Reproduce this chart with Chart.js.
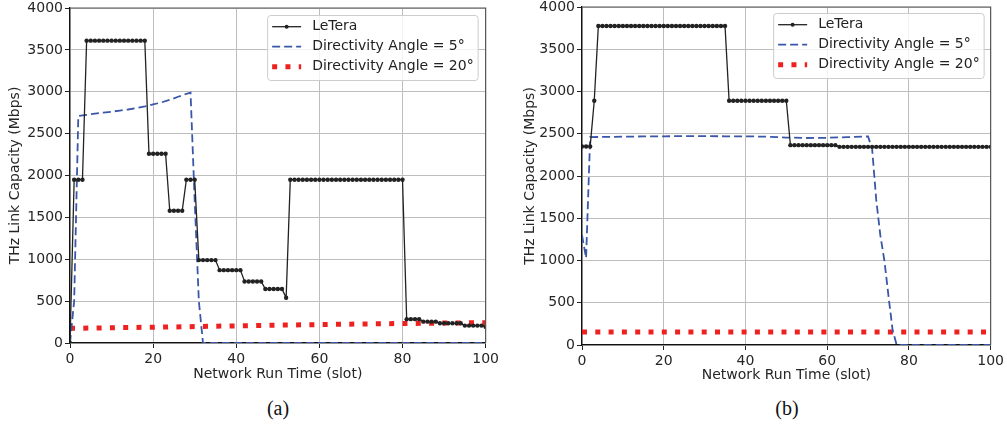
<!DOCTYPE html>
<html>
<head>
<meta charset="utf-8">
<script src="https://cdn.jsdelivr.net/npm/chart.js@4.4.1/dist/chart.umd.min.js"></script>
<style>
  html, body { margin: 0; padding: 0; background: #fff; }
  body { width: 1007px; height: 425px; overflow: hidden; position: relative; }
  .wrap { position: absolute; }
  .cap { position: absolute; top: 398px; font-family: "Liberation Serif", serif; font-size: 20px; line-height: 20px; color: #111; transform: translateX(-50%); white-space: nowrap; }
</style>
</head>
<body>
<div class="wrap" style="left:0px;top:-4px;width:502px;height:389px"><canvas id="chartA" width="502" height="389"></canvas></div>
<div class="wrap" style="left:512px;top:-4px;width:495px;height:389px"><canvas id="chartB" width="495" height="389"></canvas></div>
<div class="cap" style="left:278px">(a)</div>
<div class="cap" style="left:787px">(b)</div>
<script>
// ---------- DATA ----------
const slots = Array.from({ length: 101 }, (_, i) => i);

const xTicks = [0, 20, 40, 60, 80, 100];
const yTicks = [0, 500, 1000, 1500, 2000, 2500, 3000, 3500, 4000];

const seriesNames = ['LeTera', 'Directivity Angle = 5°', 'Directivity Angle = 20°'];

// (a) LeTera, one value per slot 0..100
const leTeraA = [
  0,
  1950, 1950, 1950,
  3610, 3610, 3610, 3610, 3610, 3610, 3610, 3610, 3610, 3610, 3610, 3610, 3610, 3610, 3610,
  2260, 2260, 2260, 2260, 2260,
  1580, 1580, 1580, 1580,
  1950, 1950, 1950,
  990, 990, 990, 990, 990,
  870, 870, 870, 870, 870, 870,
  735, 735, 735, 735, 735,
  645, 645, 645, 645, 645,
  540,
  1950, 1950, 1950, 1950, 1950, 1950, 1950,
  1950, 1950, 1950, 1950, 1950, 1950, 1950,
  1950, 1950, 1950, 1950, 1950, 1950, 1950,
  1950, 1950, 1950, 1950, 1950, 1950, 1950,
  285, 285, 285, 285,
  255, 255, 255, 255,
  235, 235, 235, 235, 235, 235,
  208, 208, 208, 208, 208,
  192
];

// (a) Directivity 5°
const dir5A_x = [0, 1, 2, 4, 6, 8, 10, 12, 14, 16, 18, 20, 22, 24, 26, 28, 29, 30, 31, 32, 100];
const dir5A_y = [0, 500, 2710, 2725, 2738, 2750, 2762, 2775, 2788, 2805, 2825, 2848, 2873, 2903, 2940, 2975, 2990, 1700, 500, 0, 0];

// (a) Directivity 20°
const dir20A_x = [0, 25, 50, 75, 100];
const dir20A_y = [175, 192, 213, 230, 243];

// (b) LeTera, one value per slot 0..100
const leTeraB = [
  2350, 2350, 2350,
  2890,
  3775, 3775, 3775, 3775, 3775, 3775, 3775, 3775,
  3775, 3775, 3775, 3775, 3775, 3775, 3775, 3775,
  3775, 3775, 3775, 3775, 3775, 3775, 3775, 3775,
  3775, 3775, 3775, 3775, 3775, 3775, 3775, 3775,
  2890, 2890, 2890, 2890, 2890, 2890, 2890, 2890, 2890, 2890, 2890, 2890, 2890, 2890, 2890,
  2365, 2365, 2365, 2365, 2365, 2365, 2365, 2365, 2365, 2365, 2365, 2365,
  2345, 2345, 2345, 2345, 2345, 2345, 2345, 2345, 2345, 2345,
  2345, 2345, 2345, 2345, 2345, 2345, 2345, 2345, 2345, 2345,
  2345, 2345, 2345, 2345, 2345, 2345, 2345, 2345, 2345, 2345,
  2345, 2345, 2345, 2345, 2345, 2345, 2345, 2345
];

// (b) Directivity 5°
const dir5B_x = [0, 1, 2, 5, 10, 15, 20, 25, 30, 35, 40, 45, 50, 55, 60, 65, 70, 71, 72, 73, 74, 75, 76, 77, 100];
const dir5B_y = [1300, 1030, 2460, 2462, 2465, 2468, 2470, 2472, 2472, 2470, 2470, 2465, 2455, 2450, 2452, 2460, 2468, 2320, 1720, 1300, 1000, 580, 180, 0, 0];

// (b) Directivity 20°
const dir20B_x = [0, 100];
const dir20B_y = [155, 155];

// ---------- STYLE ----------
const FONT = '"DejaVu Sans", sans-serif';
const C_BLACK = '#222222';
const C_BLUE = '#3a56a8';
const C_RED = '#ee2121';

const pts = (xs, ys) => xs.map((x, i) => ({ x: x, y: ys[i] }));
const plainTick = v => String(v);

const frameLegend = {
  id: 'frameLegend',
  afterDatasetsDraw(chart, args, opts) {
    const ctx = chart.ctx, a = chart.chartArea;
    ctx.save();
    ctx.strokeStyle = '#555';
    ctx.lineWidth = 1.2;
    ctx.beginPath();
    ctx.moveTo(a.left, a.top);
    ctx.lineTo(a.right, a.top);
    ctx.lineTo(a.right, a.bottom);
    ctx.stroke();
    ctx.restore();
  },
  afterDraw(chart, args, opts) {
    const ctx = chart.ctx, a = chart.chartArea;
    ctx.save();
    ctx.font = '14px ' + FONT;
    const items = opts.items;
    const tw = Math.max(...items.map(it => ctx.measureText(it.text).width));
    const w = 45 + tw + 4, h = 65;
    const x1 = a.right - opts.dx, x0 = x1 - w, y0 = a.top + opts.dy;
    ctx.beginPath();
    if (ctx.roundRect) ctx.roundRect(x0 + 0.5, y0 + 0.5, w, h, 3); else ctx.rect(x0 + 0.5, y0 + 0.5, w, h);
    ctx.fillStyle = 'rgba(255,255,255,0.8)';
    ctx.fill();
    ctx.strokeStyle = '#cccccc';
    ctx.lineWidth = 1;
    ctx.stroke();
    items.forEach((it, i) => {
      const cy = y0 + 11.7 + 20 * i;
      const hx = x0 + 5, hl = 29;
      ctx.save();
      ctx.beginPath();
      if (it.kind === 'marker') {
        ctx.strokeStyle = C_BLACK; ctx.lineWidth = 1.3;
        ctx.moveTo(hx, cy); ctx.lineTo(hx + hl, cy); ctx.stroke();
        ctx.beginPath(); ctx.fillStyle = C_BLACK;
        ctx.arc(hx + hl / 2, cy, 2, 0, Math.PI * 2); ctx.fill();
      } else if (it.kind === 'dash') {
        ctx.strokeStyle = C_BLUE; ctx.lineWidth = 1.8; ctx.setLineDash([8, 4]);
        ctx.moveTo(hx, cy); ctx.lineTo(hx + hl, cy); ctx.stroke();
      } else {
        ctx.strokeStyle = C_RED; ctx.lineWidth = 5; ctx.setLineDash([5, 8.3]); ctx.lineCap = 'butt';
        ctx.moveTo(hx, cy); ctx.lineTo(hx + hl, cy); ctx.stroke();
      }
      ctx.restore();
      ctx.fillStyle = C_BLACK;
      ctx.textBaseline = 'middle';
      ctx.textAlign = 'left';
      ctx.fillText(it.text, x0 + 45, cy);
    });
    ctx.restore();
  }
};

function makeChart(id, cfg) {
  const datasets = [
    {
      label: seriesNames[0], data: pts(slots, cfg.leTera),
      borderColor: C_BLACK, borderWidth: 1.3,
      pointRadius: 2.2, pointBackgroundColor: C_BLACK, pointBorderWidth: 0, pointHoverRadius: 2.2,
      order: 1
    },
    {
      label: seriesNames[1], data: pts(cfg.d5x, cfg.d5y),
      borderColor: C_BLUE, borderWidth: 1.8, borderDash: [8, 4],
      pointRadius: 0, order: 2
    },
    {
      label: seriesNames[2], data: pts(cfg.d20x, cfg.d20y),
      borderColor: C_RED, borderWidth: 5, borderDash: [5, 8.3], borderCapStyle: 'butt',
      pointRadius: 0, order: 3
    }
  ];
  return new Chart(document.getElementById(id), {
    type: 'line',
    data: { datasets: datasets },
    plugins: [frameLegend],
    options: {
      responsive: false,
      animation: false,
      devicePixelRatio: 1,
      layout: { padding: { left: 0, right: 15, top: cfg.padTop, bottom: 0 } },
      elements: { line: { tension: 0, fill: false } },
      plugins: {
        legend: { display: false },
        tooltip: { enabled: false },
        frameLegend: {
          dx: cfg.legDx, dy: cfg.legDy,
          items: [
            { text: seriesNames[0], kind: 'marker' },
            { text: seriesNames[1], kind: 'dash' },
            { text: seriesNames[2], kind: 'dot' }
          ]
        }
      },
      scales: {
        x: {
          type: 'linear', min: 0, max: 100,
          afterBuildTicks: s => { s.ticks = xTicks.map(v => ({ value: v })); },
          ticks: { color: '#262626', font: { family: FONT, size: 14 }, padding: 3, maxRotation: 0, autoSkip: false, callback: plainTick },
          grid: { color: '#bdbdbd', lineWidth: 1, tickLength: 5, tickColor: '#222', drawTicks: true },
          border: { display: true, color: '#111', width: 1.3 },
          title: { display: true, text: 'Network Run Time (slot)', color: '#262626', font: { family: FONT, size: 14 }, padding: { top: 0, bottom: cfg.xTitlePad } },
          afterFit: s => { s.height = cfg.xH; }
        },
        y: {
          type: 'linear', min: 0, max: 4000,
          afterBuildTicks: s => { s.ticks = yTicks.map(v => ({ value: v })); },
          ticks: { color: '#262626', font: { family: FONT, size: 14 }, padding: 2, callback: plainTick },
          grid: { color: '#bdbdbd', lineWidth: 1, tickLength: 5, tickColor: '#222', drawTicks: true },
          border: { display: true, color: '#111', width: 1.3 },
          title: { display: true, text: 'THz Link Capacity (Mbps)', color: '#262626', font: { family: FONT, size: 14 }, padding: { top: cfg.yTitlePad, bottom: 0 } },
          afterFit: s => { s.width = 70; }
        }
      }
    }
  });
}

makeChart('chartA', {
  leTera: leTeraA, d5x: dir5A_x, d5y: dir5A_y, d20x: dir20A_x, d20y: dir20A_y,
  padTop: 12, xH: 42, xTitlePad: 2.6, yTitlePad: 7, legDx: 8, legDy: 7
});
makeChart('chartB', {
  leTera: leTeraB, d5x: dir5B_x, d5y: dir5B_y, d20x: dir20B_x, d20y: dir20B_y,
  padTop: 11, xH: 40, xTitlePad: 1.6, yTitlePad: 9.6, legDx: 7, legDy: 6
});
</script>
</body>
</html>
